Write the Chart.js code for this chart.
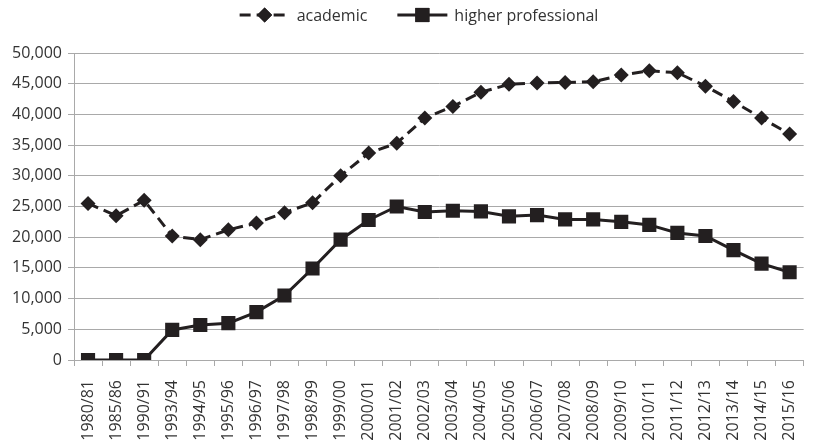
<!DOCTYPE html>
<html>
<head>
<meta charset="utf-8">
<script src="https://cdn.jsdelivr.net/npm/chart.js@4/dist/chart.umd.min.js"></script>
<style>
  html, body { margin: 0; padding: 0; background: #fff; }
  #wrap { width: 823px; height: 445px; position: relative; }
</style>
</head>
<body>
<div id="wrap"><canvas id="c" width="823" height="445"></canvas></div>
<script>
// Academic years
const years = ['1980/81','1985/86','1990/91','1993/94','1994/95','1995/96','1996/97','1997/98','1998/99','1999/00',
  '2000/01','2001/02','2002/03','2003/04','2004/05','2005/06','2006/07','2007/08','2008/09','2009/10',
  '2010/11','2011/12','2012/13','2013/14','2014/15','2015/16'];

// Student numbers per programme type
const academic = [25500, 23500, 26000, 20200, 19600, 21200, 22300, 24000, 25600, 30000,
  33700, 35300, 39400, 41300, 43600, 44900, 45100, 45200, 45300, 46400,
  47100, 46800, 44600, 42100, 39400, 36800];
const higherProfessional = [0, 0, 0, 4900, 5700, 6000, 7800, 10500, 14900, 19600,
  22800, 25000, 24100, 24300, 24200, 23400, 23600, 22900, 22900, 22500,
  22000, 20700, 20200, 17900, 15700, 14300];

// Y-axis range
const yMin = 0, yMax = 50000, yStep = 5000;

const INK = '#231f20';
const GRID = '#a9a9a9';
const TEXT = '#333333';
const FONT = "'Open Sans', 'Noto Sans', sans-serif";

// Legend with line + marker samples, like an office chart legend
const lineLegend = {
  id: 'lineLegend',
  afterDraw(chart) {
    const ctx = chart.ctx;
    const items = chart.data.datasets.map(ds => ({
      text: ds.label, dash: ds.borderDash || [], style: ds.pointStyle, radius: ds.pointRadius
    }));
    ctx.save();
    ctx.font = '16px ' + FONT;
    const sample = 50, gapText = 7, gapItem = 30;
    const widths = items.map(it => sample + gapText + ctx.measureText(it.text).width);
    const total = widths.reduce((a, b) => a + b, 0) + gapItem * (items.length - 1);
    let x = 419 - total / 2;
    const y = 15;
    items.forEach((it, i) => {
      ctx.strokeStyle = INK;
      ctx.lineWidth = 3;
      ctx.setLineDash(it.dash);
      ctx.beginPath();
      ctx.moveTo(x, y);
      ctx.lineTo(x + sample, y);
      ctx.stroke();
      ctx.setLineDash([]);
      ctx.fillStyle = INK;
      Chart.helpers.drawPoint(ctx, { pointStyle: it.style, radius: it.radius, borderWidth: 0, rotation: 0 }, x + sample / 2, y);
      ctx.fill();
      ctx.fillStyle = TEXT;
      ctx.textBaseline = 'middle';
      ctx.textAlign = 'left';
      ctx.fillText(it.text, x + sample + gapText, y + 1);
      x += widths[i] + gapItem;
    });
    ctx.restore();
  }
};

new Chart(document.getElementById('c'), {
  type: 'line',
  data: {
    labels: years,
    datasets: [
      {
        label: 'academic',
        data: academic,
        borderColor: INK,
        backgroundColor: INK,
        borderWidth: 3,
        borderDash: [11, 6],
        pointStyle: 'rectRot',
        pointRadius: 7.5,
        pointBorderWidth: 0,
        tension: 0
      },
      {
        label: 'higher professional',
        data: higherProfessional,
        borderColor: INK,
        backgroundColor: INK,
        borderWidth: 3,
        pointStyle: 'rect',
        pointRadius: 10,
        pointBorderWidth: 0,
        tension: 0
      }
    ]
  },
  options: {
    responsive: false,
    animation: false,
    layout: { padding: { top: 53, right: 1, left: 0, bottom: 0 } },
    plugins: {
      legend: { display: false },
      tooltip: { enabled: false }
    },
    scales: {
      x: {
        offset: true,
        grid: { drawOnChartArea: false, drawTicks: true, tickLength: 6, color: GRID, offset: true },
        border: { display: true, color: GRID, width: 1 },
        ticks: {
          autoSkip: false, minRotation: 90, maxRotation: 90, padding: 14,
          color: TEXT, font: { family: FONT, size: 16 }
        },
        afterFit(scale) { scale.height = 85; }
      },
      y: {
        min: yMin, max: yMax,
        grid: { color: GRID, lineWidth: 1, tickLength: 6 },
        border: { display: true, color: GRID, width: 1 },
        ticks: {
          stepSize: yStep, padding: 6, color: TEXT,
          font: { family: FONT, size: 16 },
          callback: v => v.toLocaleString('en-US')
        },
        afterFit(scale) { scale.width = 74; }
      }
    }
  },
  plugins: [lineLegend]
});
</script>
</body>
</html>
